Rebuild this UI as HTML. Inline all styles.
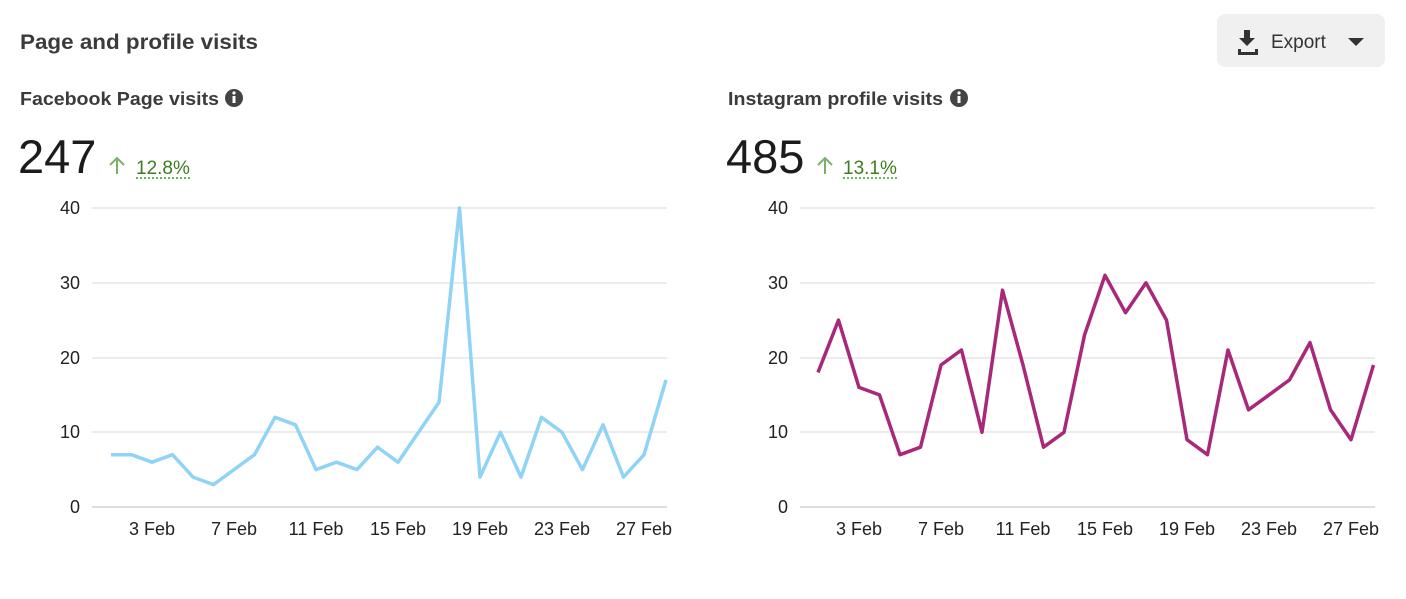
<!DOCTYPE html>
<html><head><meta charset="utf-8"><style>
body{margin:0;background:#fff;}
svg{display:block;font-family:"Liberation Sans",Arial,sans-serif;}
</style></head><body>
<svg width="1406" height="599" viewBox="0 0 1406 599">
<rect width="1406" height="599" fill="#fff"/>
<text x="20" y="49" font-size="21" font-weight="bold" fill="#3b3b3b" textLength="238" lengthAdjust="spacingAndGlyphs">Page and profile visits</text>
<rect x="1217" y="14" width="168" height="53" rx="8" fill="#f0f0f0"/>
<path d="M1244 30h6v8h5l-8 8-8-8h5z M1238 49h3v3h14v-3h3v6h-20z" fill="#333"/>
<text x="1271" y="48" font-size="19" fill="#333">Export</text>
<path d="M1348 38h16l-8 8z" fill="#333"/>

<text x="20" y="105" font-size="18" font-weight="bold" fill="#3b3b3b" textLength="199" lengthAdjust="spacingAndGlyphs">Facebook Page visits</text>
<circle cx="234" cy="98" r="9" fill="#444"/><rect x="232.5" y="96" width="3" height="7" fill="#fff"/><circle cx="234" cy="93" r="1.6" fill="#fff"/>
<text x="18" y="173" font-size="47" fill="#1c1c1c">247</text>
<path d="M117 174V158M110 165l7-7 7 7" stroke="#7bb06a" stroke-width="2" fill="none"/>
<text x="136" y="174" font-size="19" fill="#3d7d1e">12.8%</text>
<line x1="136" y1="178" x2="192" y2="178" stroke="#3d9a2e" stroke-width="1.5" stroke-dasharray="2,2"/>

<text x="728" y="105" font-size="18" font-weight="bold" fill="#3b3b3b" textLength="215" lengthAdjust="spacingAndGlyphs">Instagram profile visits</text>
<circle cx="959" cy="98" r="9" fill="#444"/><rect x="957.5" y="96" width="3" height="7" fill="#fff"/><circle cx="959" cy="93" r="1.6" fill="#fff"/>
<text x="726" y="173" font-size="47" fill="#1c1c1c">485</text>
<path d="M825 174V158M818 165l7-7 7 7" stroke="#7bb06a" stroke-width="2" fill="none"/>
<text x="843" y="174" font-size="19" fill="#3d7d1e">13.1%</text>
<line x1="843" y1="178" x2="899" y2="178" stroke="#3d9a2e" stroke-width="1.5" stroke-dasharray="2,2"/>

<g stroke="#d9d9d9" stroke-width="1">
<line x1="92" y1="208" x2="667" y2="208"/><line x1="92" y1="283" x2="667" y2="283"/><line x1="92" y1="358" x2="667" y2="358"/><line x1="92" y1="432" x2="667" y2="432"/>
<line x1="800" y1="208" x2="1375" y2="208"/><line x1="800" y1="283" x2="1375" y2="283"/><line x1="800" y1="358" x2="1375" y2="358"/><line x1="800" y1="432" x2="1375" y2="432"/>
</g>
<g stroke="#bbb" stroke-width="1"><line x1="92" y1="507" x2="667" y2="507"/><line x1="800" y1="507" x2="1375" y2="507"/></g>

<g font-size="18" fill="#222" text-anchor="end">
<text x="80" y="214">40</text><text x="80" y="289">30</text><text x="80" y="364">20</text><text x="80" y="438">10</text><text x="80" y="513">0</text>
<text x="788" y="214">40</text><text x="788" y="289">30</text><text x="788" y="364">20</text><text x="788" y="438">10</text><text x="788" y="513">0</text>
</g>
<g font-size="18" fill="#222" text-anchor="middle">
<text x="152" y="535">3 Feb</text><text x="234" y="535">7 Feb</text><text x="316" y="535">11 Feb</text><text x="398" y="535">15 Feb</text><text x="480" y="535">19 Feb</text><text x="562" y="535">23 Feb</text><text x="644" y="535">27 Feb</text>
<text x="859" y="535">3 Feb</text><text x="941" y="535">7 Feb</text><text x="1023" y="535">11 Feb</text><text x="1105" y="535">15 Feb</text><text x="1187" y="535">19 Feb</text><text x="1269" y="535">23 Feb</text><text x="1351" y="535">27 Feb</text>
</g>

<polyline fill="none" stroke="#8fd3f7" stroke-width="3.5" stroke-linejoin="round" points="111,454.7 131.5,454.7 152,462.2 172.5,454.7 193,477.1 213.5,484.6 234,469.6 254.5,454.7 275,417.3 295.5,424.8 316,469.6 336.5,462.2 357,469.6 377.5,447.2 398,462.2 418.5,432.3 439,402.4 459.5,208 480,477.1 500.5,432.3 521,477.1 541.5,417.3 562,432.3 582.5,469.6 603,424.8 623.5,477.1 644,454.7 666,379.9"/>
<polyline fill="none" stroke="#a8287a" stroke-width="3.5" stroke-linejoin="round" points="818,372.45 838.5,320.1 859,387.4 879.5,394.9 900,454.7 920.5,447.2 941,365 961.5,350 982,432.3 1002.5,290.2 1023,365 1043.5,447.2 1064,432.3 1084.5,335.1 1105,275.3 1125.5,312.7 1146,282.8 1166.5,320.1 1187,439.7 1207.5,454.7 1228,350 1248.5,409.8 1269,394.9 1289.5,379.9 1310,342.6 1330.5,409.8 1351,439.7 1373.5,365"/>
</svg>
</body></html>
